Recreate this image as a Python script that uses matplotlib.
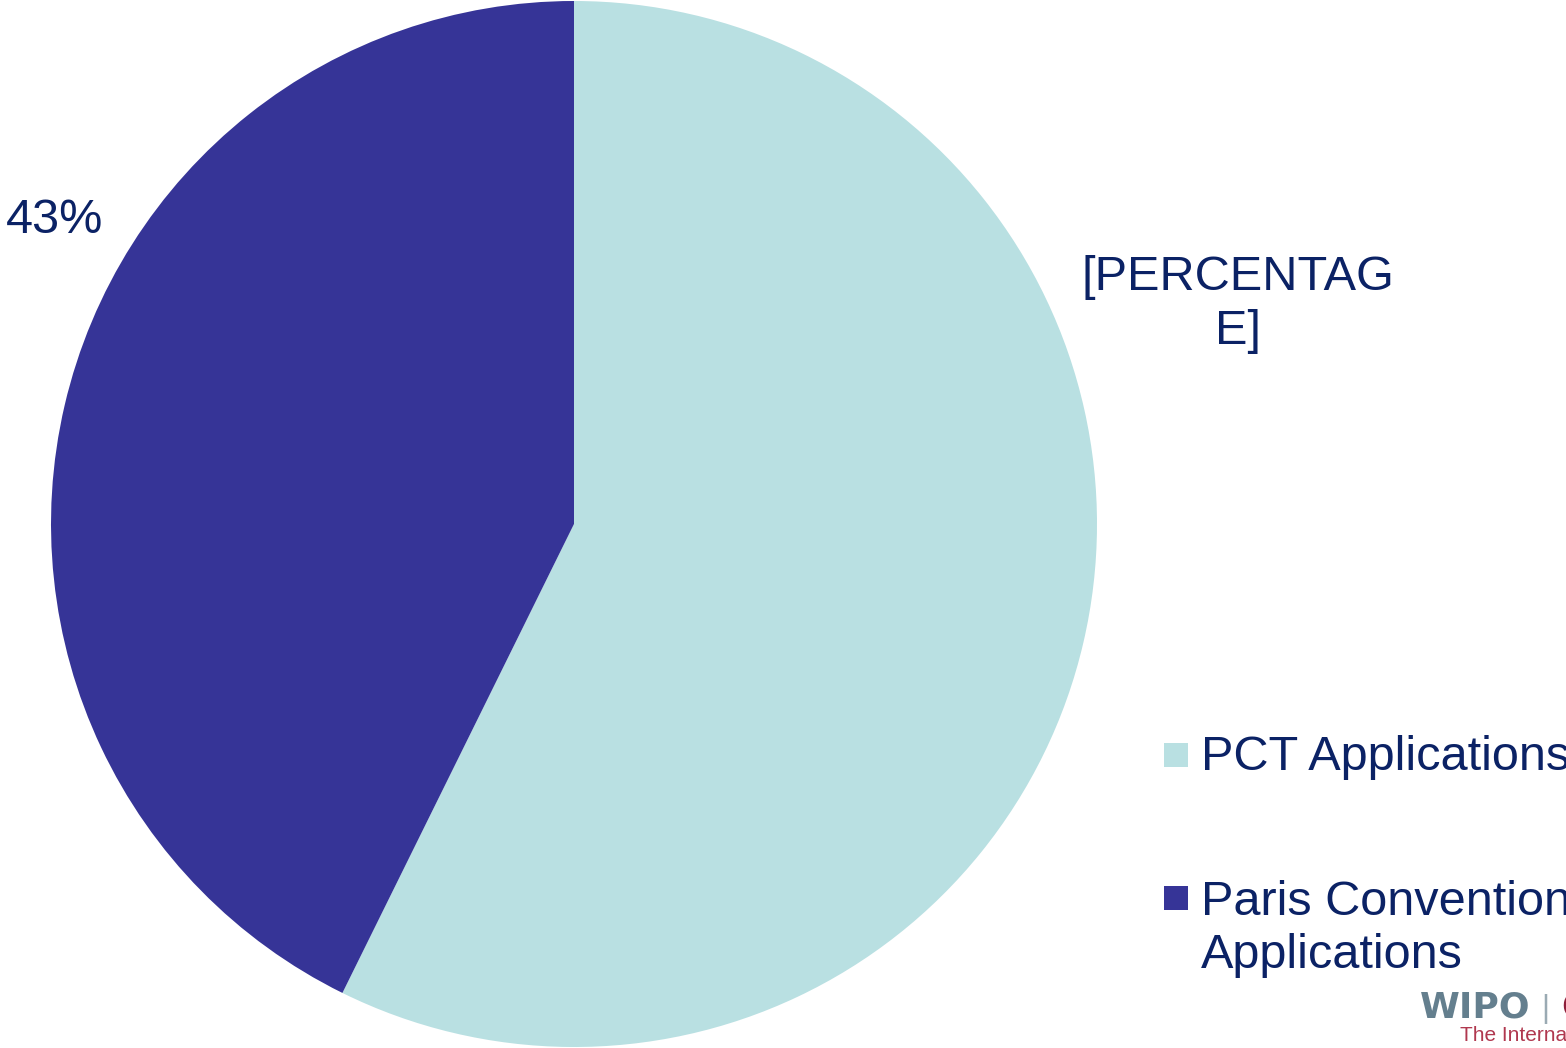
"""plot.py — share of applications by filing route (pie)."""
import matplotlib

matplotlib.use("Agg")
import matplotlib.pyplot as plt
from matplotlib.patches import Rectangle

plt.rcParams["font.family"] = ["Liberation Sans", "DejaVu Sans"]

LABELS = ["PCT Applications", "Paris Convention\nApplications"]
SHARES = [57.3, 42.7]
COLORS = ["#B9E0E2", "#363497"]
SLICE_TEXT = ["[PERCENTAG\nE]", "43%"]
TEXT_COLOR = "#0B2265"

W, H = 1566, 1048
fig = plt.figure(figsize=(W / 100, H / 100), dpi=100)

# pie axes: centre (574, 524) px, radius 523 px
cx, cy, r = 574, H - 524, 523
ax = fig.add_axes([(cx - r) / W, (cy - r) / H, 2 * r / W, 2 * r / H])
wedges, _ = ax.pie(SHARES, colors=COLORS, startangle=90, counterclock=False,
                   radius=1.0, wedgeprops=dict(linewidth=0))
ax.set_xlim(-1, 1)
ax.set_ylim(-1, 1)
ax.set_aspect("equal")
ax.axis("off")

# slice labels
ax.text(1.27, 0.42, SLICE_TEXT[0], ha="center", va="center", fontsize=35,
        color=TEXT_COLOR, linespacing=1.24, clip_on=False)
ax.text(-0.994, 0.58, SLICE_TEXT[1], ha="center", va="center", fontsize=35,
        color=TEXT_COLOR, clip_on=False)

# legend, drawn by hand so the marker sits on the first line of each label
marker_y = [755, 898]      # marker centres (px from top)
baseline_y = [770, 968]    # baseline of the last text line (px from top)
for lab, col, my, by in zip(LABELS, COLORS, marker_y, baseline_y):
    fig.patches.append(Rectangle((1164 / W, (H - my - 12) / H), 24 / W, 24 / H,
                                 transform=fig.transFigure, facecolor=col,
                                 edgecolor="none"))
    fig.text(1201 / W, (H - by) / H, lab, ha="left", va="baseline", fontsize=35,
             color=TEXT_COLOR, linespacing=1.24)

# cropped logo in the corner
fig.text(1420 / W, (H - 1017) / H, "WIPO", fontsize=26, fontweight="bold",
         family="DejaVu Sans", color="#647F8E", ha="left", va="baseline")
fig.text(1541 / W, (H - 1017) / H, "|", fontsize=22, color="#9AAAB3",
         ha="left", va="baseline")
fig.text(1561 / W, (H - 1017) / H, "OMPI", fontsize=26, fontweight="bold",
         family="DejaVu Sans", color="#8E1F3A", ha="left", va="baseline")
fig.text(1460 / W, (H - 1041) / H, "The International Bureau", fontsize=15,
         color="#B0384F", ha="left", va="baseline")

fig.savefig("out.png", dpi=100)
plt.close(fig)
